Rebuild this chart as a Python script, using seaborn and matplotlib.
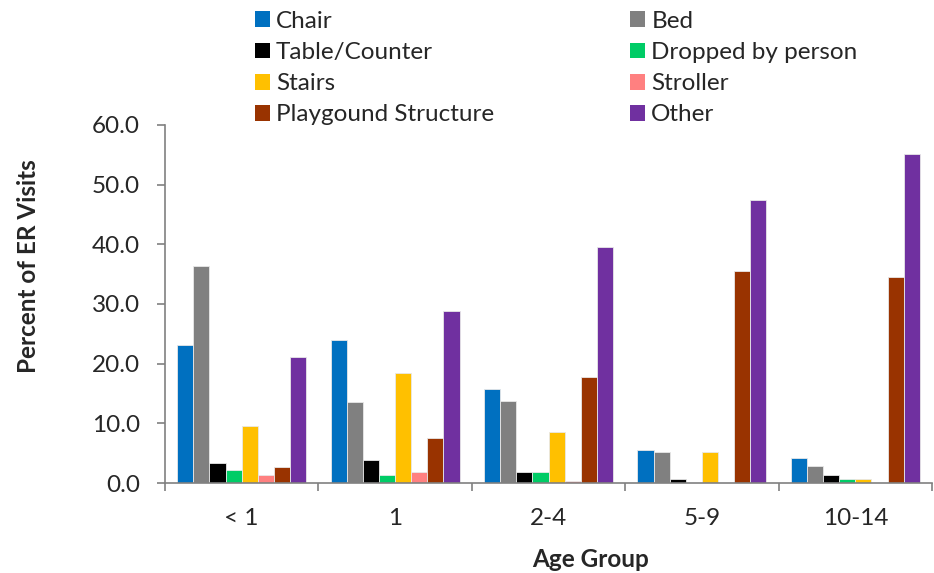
import numpy as np
import pandas as pd
import matplotlib
matplotlib.use("Agg")
import matplotlib.pyplot as plt
import seaborn as sns
from matplotlib.patches import Patch

# values (percent of ER visits)
age_groups = ["< 1", "1", "2-4", "5-9", "10-14"]
causes = ["Chair", "Bed", "Table/Counter", "Dropped by person",
          "Stairs", "Stroller", "Playgound Structure", "Other"]

chair = [23.2, 23.9, 15.7, 5.5, 4.2]
bed = [36.3, 13.6, 13.8, 5.2, 2.8]
table_counter = [3.4, 3.8, 1.8, 0.6, 1.4]
dropped = [2.1, 1.3, 1.9, 0.0, 0.7]
stairs = [9.6, 18.5, 8.6, 5.2, 0.7]
stroller = [1.4, 1.9, 0.3, 0.0, 0.0]
playground = [2.7, 7.6, 17.8, 35.6, 34.6]
other = [21.1, 28.9, 39.6, 47.5, 55.2]

colors = ["#0070C0", "#808080", "#000000", "#00CC66",
          "#FFC000", "#FF8080", "#993300", "#7030A0"]

series = [chair, bed, table_counter, dropped, stairs, stroller, playground, other]
rows = []
for cause, vals in zip(causes, series):
    for grp, v in zip(age_groups, vals):
        rows.append({"Age Group": grp, "Cause": cause, "Percent": v})
df = pd.DataFrame(rows)

sns.set_style("white")
plt.rcParams["font.family"] = ["Lato", "DejaVu Sans"]
FS = 17.5

fig = plt.figure(figsize=(9.34, 5.73), dpi=100)
ax = fig.add_axes([165 / 934, 90 / 573, 767 / 934, 358 / 573])

sns.barplot(data=df, x="Age Group", y="Percent", hue="Cause",
            order=age_groups, hue_order=causes, palette=colors,
            saturation=1, width=0.84, gap=0, edgecolor="#e8e8e8",
            linewidth=0.6, errorbar=None, legend=False, ax=ax)

ax.set_ylim(0, 60)
ax.set_xlim(-0.5, len(age_groups) - 0.5)
ax.set_yticks(np.arange(0, 61, 10))
ax.set_yticklabels([f"{v:.1f}" for v in np.arange(0, 61, 10)], fontsize=FS)

# category boundary ticks, labels in between
ax.set_xticks(np.arange(-0.5, len(age_groups), 1))
ax.set_xticklabels([])
ax.set_xticks(np.arange(len(age_groups)), minor=True)
ax.set_xticklabels(age_groups, minor=True, fontsize=FS)
ax.tick_params(axis="x", which="major", length=5.5, width=1.2, color="#808080",
               direction="out", bottom=True)
ax.tick_params(axis="x", which="minor", length=0, pad=18)
ax.tick_params(axis="y", length=6, width=1.2, color="#808080",
               direction="out", left=True, pad=12)

for side in ["top", "right"]:
    ax.spines[side].set_visible(False)
for side in ["left", "bottom"]:
    ax.spines[side].set_color("#808080")
    ax.spines[side].set_linewidth(1.2)

ax.set_xlabel("Age Group", fontsize=FS, fontweight="bold")
ax.set_ylabel("Percent of ER Visits", fontsize=FS, fontweight="bold")
ax.xaxis.set_label_coords(0.555, -0.182)
ax.yaxis.set_label_coords(-0.163, 0.606)

# legend: two columns, filled row by row like the original
order = [0, 2, 4, 6, 1, 3, 5, 7]
handles = [Patch(facecolor=colors[i], edgecolor="none") for i in order]
labels = [causes[i] for i in order]
fig.legend(handles, labels, ncol=2, loc="upper left",
           bbox_to_anchor=(245 / 934, 0.998), frameon=False, fontsize=FS,
           handlelength=0.62, handleheight=0.62, handletextpad=0.25,
           columnspacing=5.6, labelspacing=0.42, borderaxespad=0)

fig.savefig("out.png", dpi=100)
